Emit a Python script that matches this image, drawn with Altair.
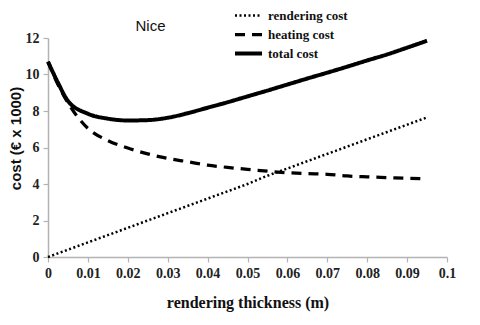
import altair as alt
import pandas as pd

thickness = [0, 0.0025, 0.005, 0.01, 0.015, 0.02, 0.025, 0.03, 0.035, 0.04, 0.045,
             0.05, 0.055, 0.06, 0.065, 0.07, 0.075, 0.08, 0.085, 0.09, 0.095]
rendering_cost = [0, 0.2, 0.4, 0.8, 1.2, 1.6, 2.0, 2.4, 2.8, 3.2, 3.6,
                  4.0, 4.45, 4.85, 5.25, 5.65, 6.05, 6.45, 6.85, 7.25, 7.65]
heating_cost = [10.7, 9.45, 8.45, 7.05, 6.38, 5.97, 5.65, 5.4, 5.22, 5.03, 4.91,
                4.8, 4.7, 4.62, 4.57, 4.53, 4.44, 4.39, 4.35, 4.31, 4.28]
total_cost = [10.7, 9.55, 8.55, 7.85, 7.58, 7.48, 7.5, 7.63, 7.88, 8.18, 8.48,
              8.8, 9.12, 9.45, 9.78, 10.1, 10.43, 10.77, 11.1, 11.47, 11.85]
series_names = ["rendering cost", "heating cost", "total cost"]
x_ticks = [0, 0.01, 0.02, 0.03, 0.04, 0.05, 0.06, 0.07, 0.08, 0.09, 0.1]
y_ticks = [0, 2, 4, 6, 8, 10, 12]

rows = []
for name, vals in zip(series_names, [rendering_cost, heating_cost, total_cost]):
    for t, v in zip(thickness, vals):
        rows.append({"t": t, "cost": v, "series": name})
df = pd.DataFrame(rows)

label_font = "Liberation Sans Narrow"
axis_gray = "#b3b3b3"

chart = alt.Chart(df).mark_line(interpolate="monotone", color="black").encode(
    x=alt.X("t:Q",
            scale=alt.Scale(domain=[0, 0.1], nice=False, zero=False),
            axis=alt.Axis(values=x_ticks, format="~g", grid=False,
                          title="rendering thickness (m)",
                          titleFont="Liberation Serif", titleFontSize=16,
                          titleFontWeight="bold", titleColor="#111",
                          titleY=45, titleBaseline="middle",
                          labelFont=label_font, labelFontSize=14,
                          labelFontWeight="bold", labelColor="#222",
                          labelPadding=4, labelFlush=False,
                          domainColor=axis_gray, domainWidth=1.5,
                          tickColor=axis_gray, tickSize=5, tickWidth=1.2)),
    y=alt.Y("cost:Q",
            scale=alt.Scale(domain=[0, 12], nice=False),
            axis=alt.Axis(values=y_ticks, grid=False,
                          title="cost (€ x 1000)",
                          titleFont="Liberation Sans", titleFontSize=15,
                          titleFontWeight="bold", titleColor="#111",
                          titleX=-33, titleY=100, titleBaseline="middle",
                          titleAlign="center", titleAngle=270,
                          labelFont=label_font, labelFontSize=14,
                          labelFontWeight="bold", labelColor="#222",
                          labelPadding=4,
                          domainColor=axis_gray, domainWidth=1.5,
                          tickColor=axis_gray, tickSize=5, tickWidth=1.2)),
    strokeDash=alt.StrokeDash(
        "series:N",
        scale=alt.Scale(domain=series_names, range=[[2, 2.5], [10, 7], [1, 0]]),
        legend=alt.Legend(orient="none", legendX=185, legendY=-32, title=None,
                          symbolType="stroke", symbolSize=729,
                          symbolStrokeWidth=3, symbolStrokeColor="black",
                          labelFont="Liberation Serif", labelFontSize=13,
                          labelFontWeight="bold", labelColor="#111",
                          clipHeight=19, rowPadding=0, labelOffset=4,
                          padding=0)),
    strokeWidth=alt.StrokeWidth(
        "series:N",
        scale=alt.Scale(domain=series_names, range=[2.5, 4, 3.3]),
        legend=None),
).properties(
    width=399, height=219,
    autosize=alt.AutoSizeParams(type="none"),
    padding={"left": 40, "top": 30, "right": 25, "bottom": 56},
    title=alt.TitleParams("Nice", anchor="middle", dx=-97, dy=34, offset=6,
                          font="Liberation Sans", fontSize=15,
                          fontWeight="normal", color="#111"),
).configure_view(stroke=None)

chart.save("out.html", embed_options={"renderer": "svg", "actions": False})
